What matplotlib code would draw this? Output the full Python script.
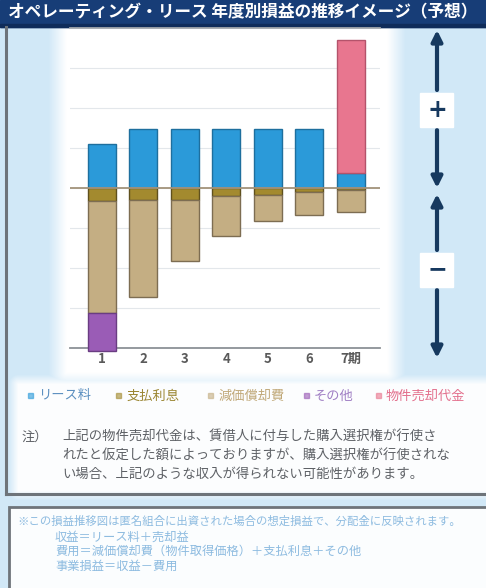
import numpy as np
import matplotlib
matplotlib.use("Agg")
import matplotlib.pyplot as plt
from matplotlib.patches import Rectangle

plt.rcParams['font.family'] = ['Noto Sans CJK JP', 'DejaVu Sans']

# ---- data (per period, stacked components) ----
periods = ['1', '2', '3', '4', '5', '6', '7期']
lease = [1.10, 1.48, 1.48, 1.48, 1.48, 1.48, 0.38]
sale = [0, 0, 0, 0, 0, 0, 3.32]
interest = [-0.32, -0.30, -0.30, -0.20, -0.18, -0.10, -0.05]
depreciation = [-2.80, -2.43, -1.52, -1.00, -0.65, -0.58, -0.55]
other = [-0.95, 0, 0, 0, 0, 0, 0]
legend_labels = ['リース料', '支払利息', '減価償却費', 'その他', '物件売却代金']

W, H = 486, 588
fig = plt.figure(figsize=(W / 100, H / 100), dpi=100)
fig.patch.set_facecolor('white')

# background layer in pixel coordinates
bg = fig.add_axes([0, 0, 1, 1], zorder=0)
bg.set_xlim(0, W)
bg.set_ylim(H, 0)
bg.axis('off')

# panel shading: light blue with a soft white region behind the chart
yy, xx = np.mgrid[0:H, 0:W].astype(float)
def soft_box(x0, x1, y0, y1, f):
    dx = np.maximum(np.maximum(x0 - xx, xx - x1), 0)
    dy = np.maximum(np.maximum(y0 - yy, yy - y1), 0)
    d = np.hypot(dx, dy)
    return np.clip(1 - d / f, 0, 1)
blue = np.array([0.82, 0.91, 0.97])
white = np.array([1.0, 1.0, 1.0])
m = np.maximum(soft_box(66, 386, 26, 372, 18), soft_box(18, 486, 384, 490, 10) * 0.95)
img = blue[None, None, :] * (1 - m[..., None]) + white[None, None, :] * m[..., None]
bg.imshow(img, extent=[0, W, H, 0], aspect='auto', zorder=0)

# title bar
bg.add_patch(Rectangle((0, 0), W, 27, color='#173d77', zorder=1))
bg.add_patch(Rectangle((0, 24), W, 3, color='#0f2c5a', zorder=1))
bg.text(243, 12, 'オペレーティング・リース 年度別損益の推移イメージ（予想）',
        color='white', fontsize=12, fontweight='bold', va='center', ha='center', zorder=2)

# panel frame
bg.plot([6, 6], [27, 494], color='#6e747a', lw=2.2, zorder=2)
bg.plot([6, W], [494, 494], color='#6e747a', lw=2.2, zorder=2)

# lower info box
bg.add_patch(Rectangle((9, 507), W, 90, facecolor='#fbfdfe', edgecolor='#6e747a', lw=2, zorder=1))

# ---- chart ----
ax = fig.add_axes([70 / W, 1 - 348 / H, 310 / W, 320 / H], zorder=1)
ax.set_facecolor('none')
x = np.arange(1, len(periods) + 1)
w = 0.675
c_lease, c_int, c_dep, c_oth, c_sale = '#2b9ad9', '#a38a2f', '#c4ae83', '#9a5cb6', '#e8768f'
e_lease, e_int, e_dep, e_oth, e_sale = '#1e6f9e', '#5f501d', '#7d6d52', '#6a3d82', '#b4536b'

def stack(values, bottom, color, edge):
    values = np.asarray(values, float)
    bottom = np.asarray(bottom, float)
    keep = values != 0
    ax.bar(x[keep], values[keep], w, bottom=bottom[keep], color=color, edgecolor=edge,
           lw=1, zorder=3, clip_on=False)

zeros = np.zeros(len(periods))
stack(lease, zeros, c_lease, e_lease)
stack(sale, lease, c_sale, e_sale)
stack(interest, zeros, c_int, e_int)
stack(depreciation, interest, c_dep, e_dep)
stack(other, np.add(interest, depreciation), c_oth, e_oth)

ax.set_xlim(0.23, 7.70)
ax.set_ylim(-4, 4)
ax.set_yticks(np.arange(-4, 5, 1))
ax.set_yticklabels([])
ax.tick_params(axis='y', length=0)
ax.grid(axis='y', color='#e3e7eb', lw=0.8, zorder=0)
ax.axhline(0, color='#a3937b', lw=1.3, zorder=4)
ax.set_xticks(x)
ax.set_xticklabels(periods, fontsize=9.5, fontweight='bold', color='#5a5a5a')
ax.tick_params(axis='x', length=0, pad=3)
for s in ['left', 'right']:
    ax.spines[s].set_visible(False)
ax.spines['bottom'].set_color('#8c9196')
ax.spines['bottom'].set_linewidth(1.3)
ax.spines['top'].set_color('#a3a8ad')
ax.spines['top'].set_linewidth(1.3)

# ---- plus / minus arrows ----
navy = '#16395f'
ap = dict(arrowstyle='-|>', lw=3, color=navy, mutation_scale=16, shrinkA=0, shrinkB=0)
bg.annotate('', xy=(437, 30), xytext=(437, 90), arrowprops=ap, zorder=3)
bg.annotate('', xy=(437, 188), xytext=(437, 130), arrowprops=ap, zorder=3)
bg.annotate('', xy=(437, 194), xytext=(437, 250), arrowprops=ap, zorder=3)
bg.annotate('', xy=(437, 358), xytext=(437, 290), arrowprops=ap, zorder=3)
bg.add_patch(Rectangle((420, 93), 33, 34, color='white', zorder=3))
bg.add_patch(Rectangle((420, 253), 33, 34, color='white', zorder=3))
bg.text(437, 110, '+', fontsize=17, fontweight='bold', color=navy, ha='center', va='center',
        family='DejaVu Sans', zorder=4)
bg.text(437, 269, '−', fontsize=17, fontweight='bold', color=navy, ha='center', va='center',
        family='DejaVu Sans', zorder=4)

# ---- legend row ----
leg_colors = [c_lease, c_int, c_dep, c_oth, c_sale]
leg_text_colors = ['#5b8fc0', '#9a8530', '#c0a878', '#a07fc4', '#e3708d']
leg_x = [28, 116, 208, 304, 376]
for lx, lab, col, tc in zip(leg_x, legend_labels, leg_colors, leg_text_colors):
    bg.add_patch(Rectangle((lx, 393), 5, 5, color=col, alpha=0.6, zorder=3))
    bg.text(lx + 10, 396, lab, fontsize=9.5, color=tc, va='center', ha='left', zorder=3)

# ---- note ----
note_col = '#5e6166'
bg.text(22, 437, '注）', fontsize=9.5, color=note_col, va='center', ha='left', zorder=3)
note_lines = ['上記の物件売却代金は、賃借人に付与した購入選択権が行使さ',
              'れたと仮定した額によっておりますが、購入選択権が行使されな',
              'い場合、上記のような収入が得られない可能性があります。']
for i, line in enumerate(note_lines):
    bg.text(62, 437 + 18.5 * i, line, fontsize=9.6, color=note_col, va='center', ha='left', zorder=3)

# ---- lower box text ----
info_col = '#8dbbe0'
bg.text(17, 521, '※この損益推移図は匿名組合に出資された場合の想定損益で、分配金に反映されます。',
        fontsize=8.2, color=info_col, va='center', ha='left', zorder=3)
info_lines = ['収益＝リース料＋売却益',
              '費用＝減価償却費（物件取得価格）＋支払利息＋その他',
              '事業損益＝収益－費用']
for i, line in enumerate(info_lines):
    bg.text(55, 537 + 14.5 * i, line, fontsize=8.8, color=info_col, va='center', ha='left', zorder=3)

fig.savefig('out.png', dpi=100, facecolor=fig.get_facecolor())
